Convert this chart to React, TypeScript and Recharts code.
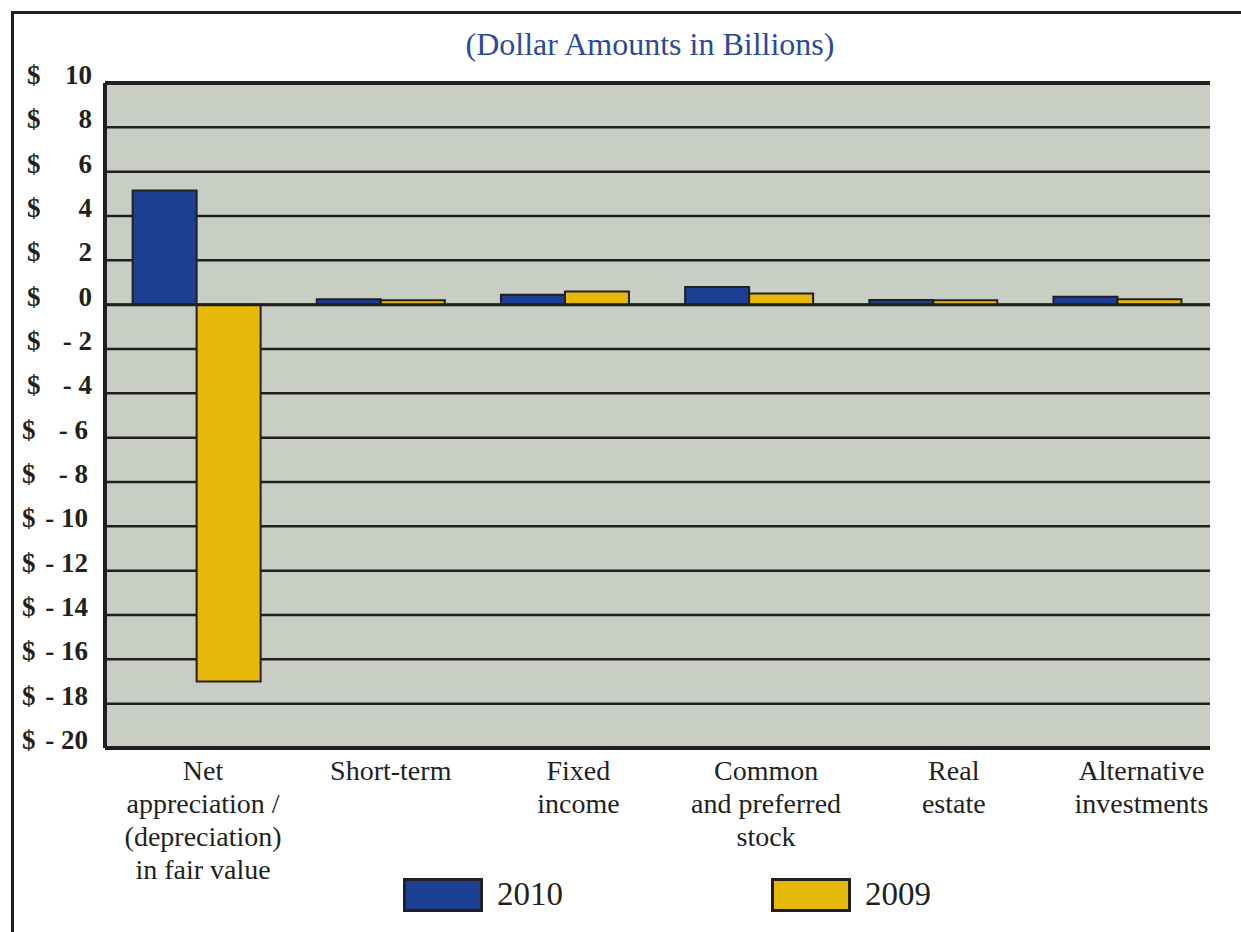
import { BarChart, Bar, XAxis, YAxis, CartesianGrid, Legend, ReferenceLine } from 'recharts';

const categories = [
  'Net\nappreciation /\n(depreciation)\nin fair value',
  'Short-term',
  'Fixed\nincome',
  'Common\nand preferred\nstock',
  'Real\nestate',
  'Alternative\ninvestments',
];
const values2010 = [5.15, 0.24, 0.45, 0.8, 0.21, 0.36];
const values2009 = [-17.0, 0.2, 0.59, 0.5, 0.2, 0.24];
const yTicks = [10, 8, 6, 4, 2, 0, -2, -4, -6, -8, -10, -12, -14, -16, -18, -20];

const data = categories.map((name, i) => ({ name, y2010: values2010[i], y2009: values2009[i] }));

const BLUE = '#1c3f94';
const GOLD = '#e6b80a';
const INK = '#231f20';
const SERIF = '"Liberation Serif", "Times New Roman", serif';

function YTick({ y, payload }: any) {
  const v = payload.value as number;
  const num = v < 0 ? `- ${Math.abs(v)}` : `${v}`;
  return (
    <g fontFamily={SERIF} fontWeight="bold" fontSize={27} fill={INK}>
      <text x={v <= -6 ? 22 : 27} y={y + 1}>$</text>
      <text x={v <= -6 ? 88 : 92} y={y + 1} textAnchor="end">{num}</text>
    </g>
  );
}

function XTick({ x, y, payload, index }: any) {
  const lines = String(payload.value).split('\n');
  // labels in the original sit a little right of the band centres
  const cx = x + 6 + (index ?? 0) * 3.5;
  return (
    <text x={cx} y={y} textAnchor="middle" fontFamily={SERIF} fontSize={28} fill={INK}>
      {lines.map((l, i) => (
        <tspan key={i} x={cx} dy={i === 0 ? 24 : 33}>{l}</tspan>
      ))}
    </text>
  );
}

function LegendContent() {
  const items = [
    { label: '2010', color: BLUE },
    { label: '2009', color: GOLD },
  ];
  return (
    <div style={{ display: 'flex', paddingLeft: 391, paddingTop: 8 }}>
      {items.map((it) => (
        <div key={it.label} style={{ display: 'flex', alignItems: 'center', width: 368 }}>
          <div style={{ width: 74, height: 28, background: it.color, border: `3px solid ${INK}` }} />
          <span style={{ marginLeft: 14, fontFamily: SERIF, fontSize: 33, color: INK }}>{it.label}</span>
        </div>
      ))}
    </div>
  );
}

export default function App() {
  return (
    <div style={{ position: 'absolute', left: 0, top: 0, width: 1241, height: 932, overflow: 'hidden', background: '#fff' }}>
      <div
        style={{
          position: 'absolute',
          left: 11,
          top: 11,
          width: 1300,
          height: 1000,
          border: `3px solid ${INK}`,
        }}
      />
      <div
        style={{
          position: 'absolute',
          left: 0,
          top: 26,
          width: 1300,
          textAlign: 'center',
          fontFamily: SERIF,
          fontSize: 32,
          color: '#2a4a9c',
        }}
      >
        (Dollar Amounts in Billions)
      </div>
      <div style={{ position: 'absolute', left: 0, top: 0 }}>
        <BarChart
          width={1241}
          height={932}
          data={data}
          margin={{ top: 83, right: 31, bottom: 0, left: 12 }}
          barCategoryGap="15%"
          barGap={0}
        >
          <CartesianGrid vertical={false} fill="#c8cec3" stroke={INK} strokeWidth={2.5} />
          <XAxis
            dataKey="name"
            interval={0}
            height={120}
            tick={<XTick />}
            tickLine={false}
            axisLine={{ stroke: INK, strokeWidth: 4 }}
          />
          <YAxis
            domain={[-20, 10]}
            ticks={yTicks}
            interval={0}
            width={93}
            tick={<YTick />}
            tickLine={false}
            axisLine={{ stroke: INK, strokeWidth: 4 }}
          />
          <YAxis
            yAxisId="right"
            orientation="right"
            domain={[-20, 10]}
            width={0}
            tick={false}
            tickLine={false}
            axisLine={{ stroke: INK, strokeWidth: 4 }}
          />
          <Legend verticalAlign="bottom" height={64} content={<LegendContent />} />
          <ReferenceLine y={10} stroke={INK} strokeWidth={4} />
          <Bar dataKey="y2010" name="2010" fill={BLUE} stroke={INK} strokeWidth={2} isAnimationActive={false} />
          <Bar dataKey="y2009" name="2009" fill={GOLD} stroke={INK} strokeWidth={2} isAnimationActive={false} />
          <ReferenceLine y={0} stroke={INK} strokeWidth={3} />
        </BarChart>
      </div>
    </div>
  );
}
